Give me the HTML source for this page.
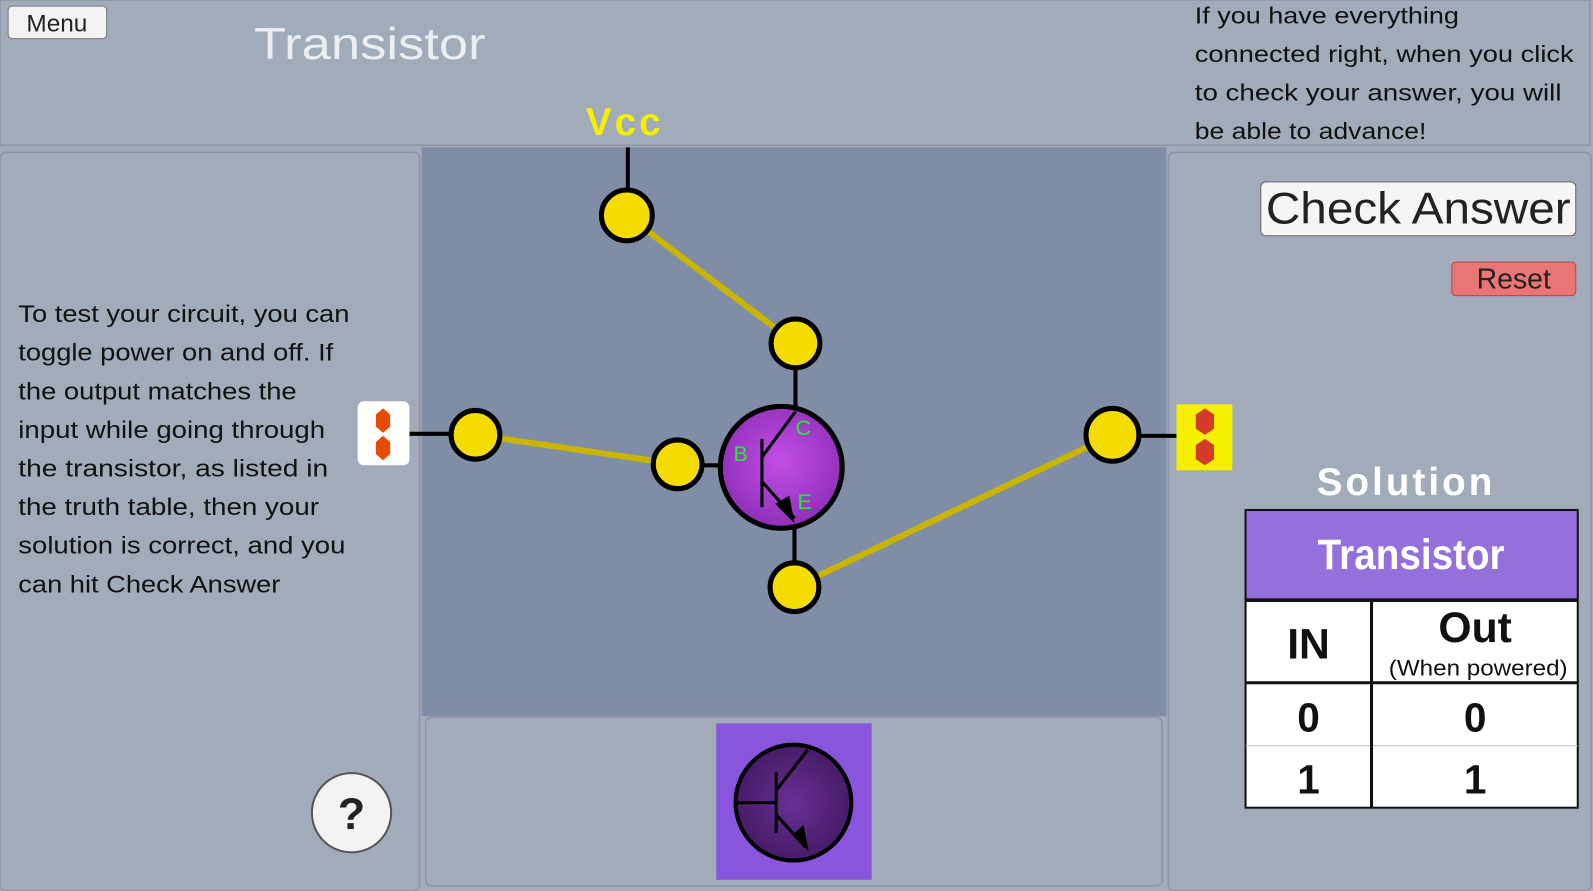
<!DOCTYPE html>
<html><head><meta charset="utf-8"><style>
html,body{margin:0;padding:0;width:1593px;height:891px;overflow:hidden;background:#a2abb9}
svg{display:block}
text{font-family:"Liberation Sans",sans-serif}
</style></head><body>
<svg width="1593" height="891" viewBox="0 0 1568 877" preserveAspectRatio="none">
<defs>
<radialGradient id="pg" cx="50%" cy="45%" r="55%"><stop offset="0" stop-color="#c24fe6"/><stop offset="1" stop-color="#8f2fb8"/></radialGradient>
<radialGradient id="dg" cx="50%" cy="50%" r="55%"><stop offset="0" stop-color="#6a2f95"/><stop offset="1" stop-color="#421a63"/></radialGradient>
</defs>
<rect x="0" y="0" width="1568" height="877" fill="#a2abb9"/>
<rect x="0" y="0" width="1565" height="143" fill="#a2abb9" stroke="#8a94a3" stroke-width="1.5"/>
<rect x="415" y="145" width="733" height="560" fill="#7f8ea6"/>
<rect x="0" y="150" width="413" height="727" rx="6" fill="#a2abb9" stroke="#8a94a3" stroke-width="1.5"/>
<rect x="1150" y="150" width="416" height="727" rx="6" fill="#a2abb9" stroke="#8a94a3" stroke-width="1.5"/>
<rect x="419" y="706" width="725" height="166" rx="6" fill="#a2abb9" stroke="#8a94a3" stroke-width="1.5"/>
<rect x="8" y="6" width="97" height="32" rx="4" fill="#f3f3f3" stroke="#777"/>
<text x="56" y="31" font-size="24" text-anchor="middle" fill="#222">Menu</text>
<text x="250" y="58" font-size="44" fill="#eceef2" textLength="228" lengthAdjust="spacingAndGlyphs">Transistor</text>
<g font-size="23" fill="#111">
<text x="1176" y="23" textLength="260" lengthAdjust="spacingAndGlyphs">If you have everything</text>
<text x="1176" y="61" textLength="373" lengthAdjust="spacingAndGlyphs">connected right, when you click</text>
<text x="1176" y="99" textLength="361" lengthAdjust="spacingAndGlyphs">to check your answer, you will</text>
<text x="1176" y="137" textLength="228" lengthAdjust="spacingAndGlyphs">be able to advance!</text>
</g>
<text x="615" y="133" font-size="38" font-weight="bold" text-anchor="middle" fill="#f5ef00" letter-spacing="3">Vcc</text>
<g font-size="24" fill="#111" lengthAdjust="spacingAndGlyphs">
<text x="18" y="317" textLength="326" lengthAdjust="spacingAndGlyphs">To test your circuit, you can</text>
<text x="18" y="355" textLength="310" lengthAdjust="spacingAndGlyphs">toggle power on and off. If</text>
<text x="18" y="393" textLength="274" lengthAdjust="spacingAndGlyphs">the output matches the</text>
<text x="18" y="431" textLength="302" lengthAdjust="spacingAndGlyphs">input while going through</text>
<text x="18" y="469" textLength="305" lengthAdjust="spacingAndGlyphs">the transistor, as listed in</text>
<text x="18" y="507" textLength="296" lengthAdjust="spacingAndGlyphs">the truth table, then your</text>
<text x="18" y="545" textLength="322" lengthAdjust="spacingAndGlyphs">solution is correct, and you</text>
<text x="18" y="583" textLength="258" lengthAdjust="spacingAndGlyphs">can hit Check Answer</text>
</g>
<g stroke="#000" stroke-width="4">
<line x1="618" y1="145" x2="618" y2="190"/>
<line x1="783" y1="338" x2="783" y2="402"/>
<line x1="782" y1="518" x2="782" y2="578"/>
<line x1="667" y1="458" x2="710" y2="458"/>
<line x1="403" y1="427" x2="468" y2="427"/>
<line x1="1095" y1="429" x2="1158" y2="429"/>
</g>
<g stroke="#c9b400" stroke-width="6">
<line x1="617" y1="212" x2="783" y2="338"/>
<line x1="468" y1="428" x2="667" y2="457"/>
<line x1="782" y1="578" x2="1095" y2="428"/>
</g>
<g fill="#f5dc00" stroke="#000" stroke-width="5">
<circle cx="617" cy="212" r="25"/>
<circle cx="783" cy="338" r="24"/>
<circle cx="468" cy="428" r="24"/>
<circle cx="667" cy="457" r="24"/>
<circle cx="782" cy="578" r="24"/>
<circle cx="1095" cy="428" r="26"/>
</g>
<circle cx="769" cy="460" r="60" fill="url(#pg)" stroke="#000" stroke-width="5"/>
<g stroke="#000" stroke-width="3" fill="none">
<line x1="750" y1="432" x2="750" y2="499"/>
<line x1="750" y1="450" x2="783" y2="405"/>
<line x1="750" y1="474" x2="782" y2="510"/>
</g>
<polygon points="763,496 782,515 777,488" fill="#000"/>
<g font-size="21" fill="#22ee33">
<text x="783" y="428">C</text><text x="722" y="454">B</text><text x="785" y="501">E</text>
</g>
<rect x="352" y="395" width="51" height="63" rx="6" fill="#fff"/>
<polygon points="377,402 384,408 384,420 377,426 370,420 370,408" fill="#e84a00"/>
<polygon points="377,429 384,435 384,447 377,453 370,447 370,435" fill="#e84a00"/>
<rect x="1158" y="398" width="55" height="65" fill="#f5ef00"/>
<polygon points="1186,402 1195,408 1195,422 1186,428 1177,422 1177,408" fill="#d43a2a"/>
<polygon points="1186,432 1195,438 1195,452 1186,458 1177,452 1177,438" fill="#d43a2a"/>
<rect x="1241" y="179" width="310" height="53" rx="5" fill="#f5f5f5" stroke="#666"/>
<text x="1396" y="220" font-size="44" text-anchor="middle" fill="#222" textLength="300" lengthAdjust="spacingAndGlyphs">Check Answer</text>
<rect x="1429" y="258" width="122" height="33" rx="4" fill="#e97575" stroke="#b44"/>
<text x="1490" y="284" font-size="28" text-anchor="middle" fill="#222">Reset</text>
<text x="1384" y="487" font-size="38" font-weight="bold" text-anchor="middle" fill="#fff" letter-spacing="3">Solution</text>
<rect x="1226" y="502" width="327" height="88" fill="#9370db" stroke="#111" stroke-width="2"/>
<text x="1389" y="560" font-size="42" font-weight="bold" text-anchor="middle" fill="#fff" textLength="184" lengthAdjust="spacingAndGlyphs">Transistor</text>
<rect x="1226" y="590" width="327" height="205" fill="#fff" stroke="#111" stroke-width="2"/>
<line x1="1226" y1="591" x2="1553" y2="591" stroke="#111" stroke-width="3"/>
<line x1="1226" y1="672" x2="1553" y2="672" stroke="#111" stroke-width="3"/>
<line x1="1226" y1="734" x2="1553" y2="734" stroke="#bbb" stroke-width="1"/>
<line x1="1350" y1="590" x2="1350" y2="795" stroke="#111" stroke-width="3"/>
<g font-weight="bold" fill="#111" text-anchor="middle">
<text x="1288" y="648" font-size="42">IN</text>
<text x="1452" y="632" font-size="42">Out</text>
<text x="1455" y="665" font-size="22" font-weight="normal" textLength="176" lengthAdjust="spacingAndGlyphs">(When powered)</text>
<text x="1288" y="720" font-size="40">0</text><text x="1452" y="720" font-size="40">0</text>
<text x="1288" y="781" font-size="40">1</text><text x="1452" y="781" font-size="40">1</text>
</g>
<circle cx="346" cy="800" r="39" fill="#f3f3f3" stroke="#555" stroke-width="2"/>
<text x="346" y="816" font-size="44" font-weight="bold" text-anchor="middle" fill="#222">?</text>
<rect x="705" y="712" width="153" height="154" fill="#8a55dd"/>
<circle cx="781" cy="790" r="57" fill="url(#dg)" stroke="#000" stroke-width="4"/>
<g stroke="#000" stroke-width="3" fill="none">
<line x1="724" y1="790" x2="764" y2="790"/>
<line x1="764" y1="760" x2="764" y2="820"/>
<line x1="764" y1="778" x2="795" y2="738"/>
<line x1="764" y1="802" x2="793" y2="834"/>
</g>
<polygon points="780,822 796,838 791,812" fill="#000"/>
</svg>
</body></html>
